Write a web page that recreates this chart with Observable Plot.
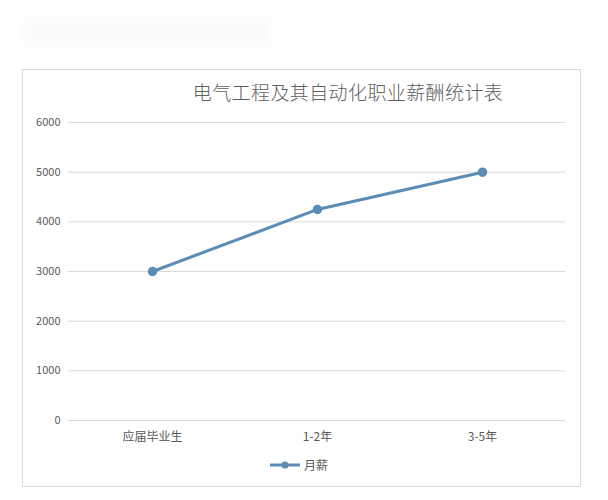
<!DOCTYPE html>
<html><head><meta charset="utf-8">
<script src="https://cdn.jsdelivr.net/npm/d3@7"></script>
<script src="https://cdn.jsdelivr.net/npm/@observablehq/plot@0.6"></script>
<style>
html,body{margin:0;padding:0;background:#fff;}
#wrap{position:relative;width:608px;height:500px;overflow:hidden;font-family:"Noto Sans CJK SC","Noto Sans",sans-serif;}
#frame{position:absolute;left:22px;top:69px;width:559px;height:418px;border:1px solid #d9d9d9;box-sizing:border-box;}
#title{position:absolute;left:0;width:100%;top:78px;text-align:center;padding-left:88px;box-sizing:border-box;font-size:19px;font-weight:300;color:#606060;letter-spacing:0.4px;}
#chart{position:absolute;left:0;top:100px;}
#legend{position:absolute;top:456px;left:269px;display:flex;align-items:center;font-size:12px;color:#595959;}
#blur{position:absolute;left:22px;top:16px;width:248px;height:32px;background:#f7f8fa;filter:blur(5px);opacity:0.6;}
</style></head>
<body><div id="wrap">
<div id="blur"></div>
<div id="frame"></div>
<div id="title">电气工程及其自动化职业薪酬统计表</div>
<div id="chart"></div>
<div id="legend"><svg width="32" height="12"><line x1="1" x2="31" y1="6" y2="6" stroke="#5b8cb6" stroke-width="3"/><circle cx="16" cy="6" r="3.5" fill="#5b8cb6"/></svg><span style="margin-left:3px">月薪</span></div>
</div>
<script>
const categories = ["应届毕业生", "1-2年", "3-5年"];
const salary = [3000, 4250, 5000];
const yTicks = [0, 1000, 2000, 3000, 4000, 5000, 6000];
const seriesName = "月薪";

const data = categories.map((c, i) => ({cat: c, value: salary[i], series: seriesName}));

const plot = Plot.plot({
  width: 608,
  height: 360,
  marginLeft: 68,
  marginRight: 43,
  marginTop: 22,
  marginBottom: 40,
  style: {fontFamily: '"Noto Sans CJK SC","Noto Sans",sans-serif', background: "transparent", color: "#595959"},
  x: {type: "point", domain: categories, padding: 0.5, label: null},
  y: {domain: [0, 6000], ticks: yTicks, label: null},
  marks: [
    Plot.ruleY(yTicks, {stroke: "#d9d9d9", strokeWidth: 1}),
    Plot.axisY({ticks: yTicks, tickFormat: d3.format("d"), tickSize: 0, tickPadding: 8, fontSize: 11, fill: "#595959", label: null}),
    Plot.axisX({tickSize: 0, tickPadding: 12, fontSize: 12, fill: "#595959", label: null}),
    Plot.line(data, {x: "cat", y: "value", stroke: "#5b8cb6", strokeWidth: 3}),
    Plot.dot(data, {x: "cat", y: "value", r: 4, fill: "#5b8cb6", stroke: "#5b8cb6"})
  ]
});
document.getElementById("chart").appendChild(plot);
</script>
</body></html>
